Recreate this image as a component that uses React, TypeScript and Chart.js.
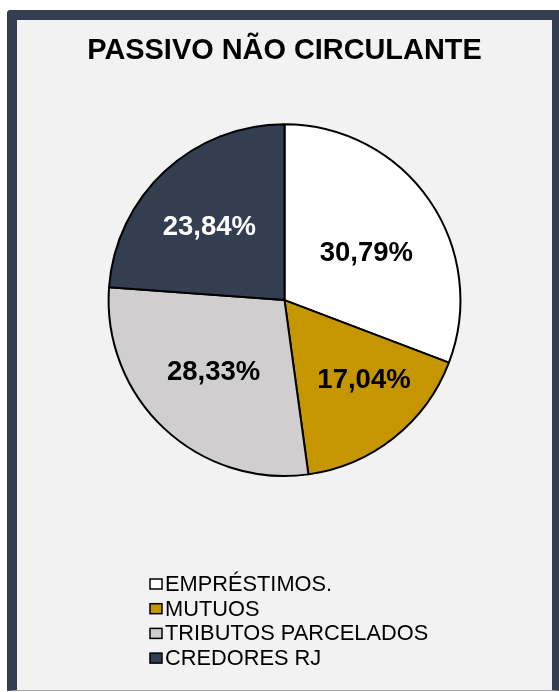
import React, { useEffect, useRef } from "react";
import { Chart, registerables } from "chart.js";

Chart.register(...registerables);

const chartTitle = "PASSIVO NÃO CIRCULANTE";
const categories = ["EMPRÉSTIMOS.", "MUTUOS", "TRIBUTOS PARCELADOS", "CREDORES RJ"];
const shares = [30.79, 17.04, 28.33, 23.84];
const sliceColors = ["#FFFFFF", "#C59600", "#D0CECE", "#333F50"];
const labelColors = ["#000000", "#000000", "#000000", "#FFFFFF"];

const FONT = '"Liberation Sans", Arial, Helvetica, sans-serif';
const LABEL_SIZE = 27.5;

const fmt = (v: number) => v.toFixed(2).replace(".", ",") + "%";

// "best fit" placement: keep the label box well inside the slice while
// staying close to the slice's natural mid-angle position.
function bestFit(
  cx: number,
  cy: number,
  R: number,
  a0: number,
  a1: number,
  w: number,
  h: number
) {
  const n0x = -Math.sin(a0), n0y = Math.cos(a0);
  const n1x = Math.sin(a1), n1y = -Math.cos(a1);
  const mid = (a0 + a1) / 2;
  const ix = Math.cos(mid) * R * 0.6, iy = Math.sin(mid) * R * 0.6;
  let best = { x: cx, y: cy, s: -Infinity };
  const steps = 160;
  for (let k = 0; k <= steps; k++) {
    const t = a0 + ((a1 - a0) * k) / steps;
    for (let r = R * 0.2; r <= R * 0.95; r += 1) {
      const px = Math.cos(t) * r, py = Math.sin(t) * r;
      let far = 0, d0 = Infinity, d1 = Infinity;
      for (const sx of [-1, 1]) {
        for (const sy of [-1, 1]) {
          const qx = px + (sx * w) / 2, qy = py + (sy * h) / 2;
          far = Math.max(far, Math.hypot(qx, qy));
          d0 = Math.min(d0, qx * n0x + qy * n0y);
          d1 = Math.min(d1, qx * n1x + qy * n1y);
        }
      }
      const s = Math.min(R - far, d0, d1) - 0.3 * Math.hypot(px - ix, py - iy);
      if (s > best.s) best = { x: cx + px, y: cy + py, s };
    }
  }
  return best;
}

const sliceLabelPlugin = {
  id: "sliceLabels",
  afterDatasetsDraw(chart: any) {
    const meta = chart.getDatasetMeta(0);
    const ctx = chart.ctx;
    ctx.save();
    ctx.font = `bold ${LABEL_SIZE}px ${FONT}`;
    ctx.textAlign = "center";
    ctx.textBaseline = "middle";
    meta.data.forEach((arc: any, i: number) => {
      const { startAngle, endAngle, outerRadius, x, y } = arc.getProps(
        ["startAngle", "endAngle", "outerRadius", "x", "y"],
        true
      );
      const text = fmt(shares[i]);
      const w = ctx.measureText(text).width;
      const p = bestFit(x, y, outerRadius, startAngle, endAngle, w, LABEL_SIZE * 0.8);
      ctx.fillStyle = labelColors[i];
      ctx.fillText(text, p.x, p.y);
    });
    ctx.restore();
  },
};

const listLegendPlugin = {
  id: "listLegend",
  afterDraw(chart: any) {
    const ctx = chart.ctx;
    const left = 133;
    const top = 564;
    const step = 24.7;
    const boxW = 12;
    const boxH = 10;
    ctx.save();
    ctx.font = `21.8px ${FONT}`;
    ctx.textAlign = "left";
    ctx.textBaseline = "middle";
    categories.forEach((name, i) => {
      const cy = top + i * step;
      ctx.fillStyle = sliceColors[i];
      ctx.fillRect(left, cy - boxH / 2, boxW, boxH);
      ctx.strokeStyle = "#000000";
      ctx.lineWidth = 1.5;
      ctx.strokeRect(left, cy - boxH / 2, boxW, boxH);
      ctx.fillStyle = "#000000";
      ctx.fillText(name, left + boxW + 3, cy + 1);
    });
    ctx.restore();
  },
};

export default function App() {
  const canvasRef = useRef<HTMLCanvasElement | null>(null);

  useEffect(() => {
    document.body.style.margin = "0";
    document.body.style.overflow = "hidden";
    const canvas = canvasRef.current;
    if (!canvas) return;
    const chart = new Chart(canvas, {
      type: "pie",
      data: {
        labels: categories,
        datasets: [
          {
            data: shares,
            backgroundColor: sliceColors,
            borderColor: "#000000",
            borderWidth: 2,
          },
        ],
      },
      options: {
        animation: false,
        responsive: false,
        devicePixelRatio: 1,
        layout: { padding: { top: 0, bottom: 213, left: 0, right: 0 } },
        plugins: {
          legend: { display: false },
          tooltip: { enabled: false },
          title: {
            display: true,
            text: chartTitle,
            color: "#000000",
            font: { family: FONT, size: 28.9, weight: "bold" },
            padding: { top: 14, bottom: 54.5 },
          },
        },
      },
      plugins: [sliceLabelPlugin, listLegendPlugin],
    });
    return () => chart.destroy();
  }, []);

  return (
    <div
      style={{
        position: "fixed",
        left: 7,
        top: 10,
        width: 535,
        height: 670,
        border: "10px solid #333F50",
        borderBottom: "1px solid #A6A6A6",
        borderRadius: "4px 4px 0 0",
        background: "#F2F2F2",
      }}
    >
      <canvas
        ref={canvasRef}
        width={535}
        height={670}
        style={{ display: "block", width: 535, height: 670 }}
      />
    </div>
  );
}
